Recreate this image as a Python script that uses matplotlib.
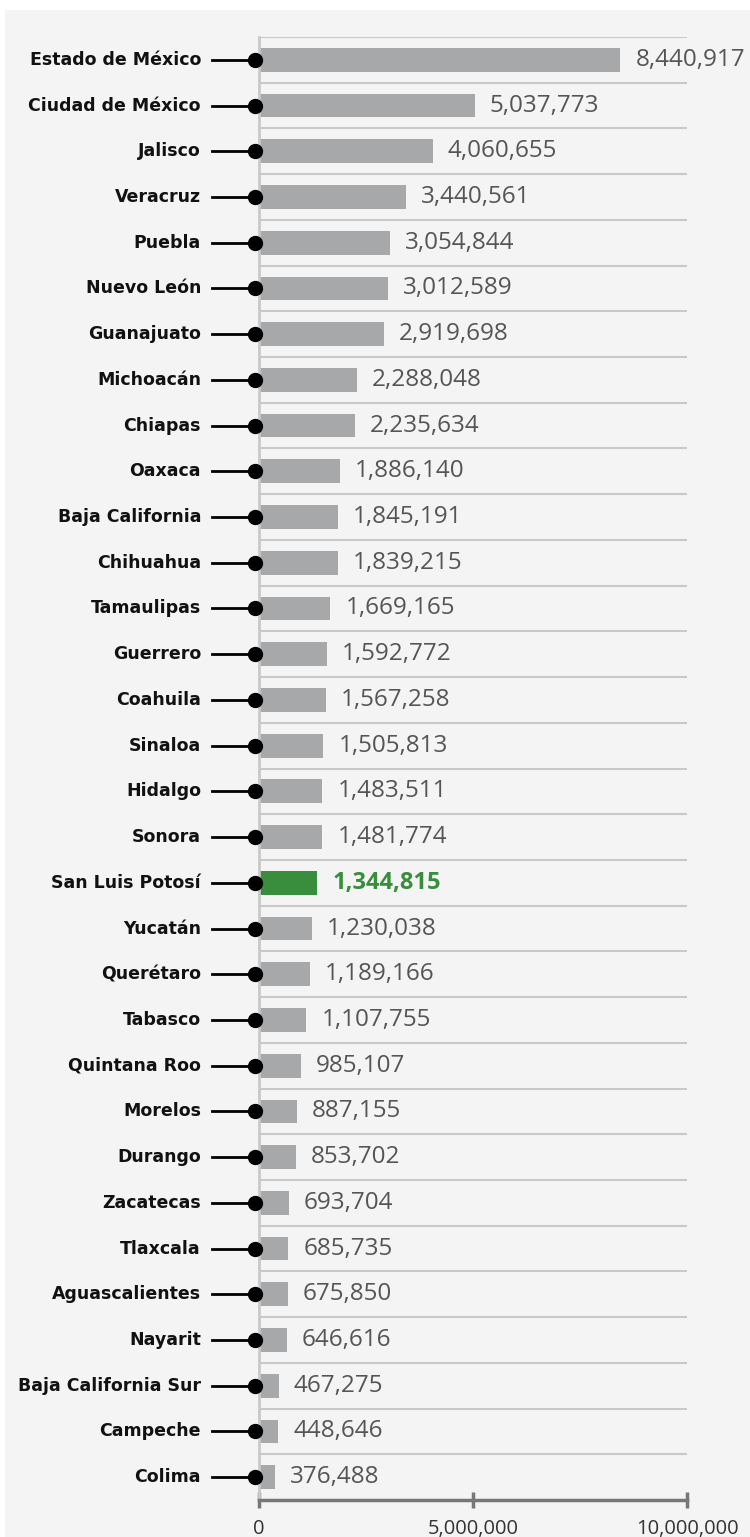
import matplotlib.pyplot as plt
from matplotlib.patches import Rectangle
from matplotlib import transforms

# Datos
estados = ["Estado de México", "Ciudad de México", "Jalisco", "Veracruz", "Puebla",
           "Nuevo León", "Guanajuato", "Michoacán", "Chiapas", "Oaxaca",
           "Baja California", "Chihuahua", "Tamaulipas", "Guerrero", "Coahuila",
           "Sinaloa", "Hidalgo", "Sonora", "San Luis Potosí", "Yucatán",
           "Querétaro", "Tabasco", "Quintana Roo", "Morelos", "Durango",
           "Zacatecas", "Tlaxcala", "Aguascalientes", "Nayarit", "Baja California Sur",
           "Campeche", "Colima"]
valores = [8440917, 5037773, 4060655, 3440561, 3054844,
           3012589, 2919698, 2288048, 2235634, 1886140,
           1845191, 1839215, 1669165, 1592772, 1567258,
           1505813, 1483511, 1481774, 1344815, 1230038,
           1189166, 1107755, 985107, 887155, 853702,
           693704, 685735, 675850, 646616, 467275,
           448646, 376488]
destacado = "San Luis Potosí"
ticks = [0, 5000000, 10000000]

gris = "#a7a8aa"
verde = "#388e3c"

fig = plt.figure(figsize=(7.5, 15.37), dpi=100)
fig.patch.set_facecolor("white")
# panel de fondo gris claro
fig.patches.append(Rectangle((5 / 750, 0), 1, 1 - 10 / 1537, transform=fig.transFigure,
                             facecolor="#f4f4f4", edgecolor="none", zorder=-10))

ax = fig.add_axes([259 / 750, 37 / 1537, 428 / 750, 1463 / 1537])
ax.set_facecolor("none")

y = list(range(len(estados)))
colores = [verde if e == destacado else gris for e in estados]
ax.barh(y, valores, height=0.52, color=colores, zorder=2)

ax.set_xlim(0, 10000000)
ax.set_ylim(len(estados) - 0.5, -0.5)

# lineas horizontales entre filas
for i in y:
    ax.axhline(i - 0.5, color="#c9c9c9", lw=1.5, zorder=1)

for s in ["top", "right"]:
    ax.spines[s].set_visible(False)
ax.spines["left"].set_color("#c9c9c9")
ax.spines["left"].set_linewidth(2)
ax.spines["bottom"].set_color("#777777")
ax.spines["bottom"].set_linewidth(2.5)

ax.set_yticks([])
ax.set_xticks(ticks)
ax.set_xticklabels([f"{t:,}" for t in ticks], fontsize=14.5, color="#333333",
                   family="Open Sans")
ax.tick_params(axis="x", direction="inout", length=12, width=2.5, color="#777777", pad=8)

# punto y etiquetas de cada fila
for i, (e, v) in enumerate(zip(estados, valores)):
    ax.plot([0], [i], "o", color="black", ms=10, clip_on=False, zorder=5,
            transform=transforms.offset_copy(ax.transData, fig=fig, x=-4, y=0, units="dots"))
    ax.text(0, i, e, ha="right", va="center", fontsize=12.5, fontweight="bold",
            family="DejaVu Sans", color="#111111",
            transform=transforms.offset_copy(ax.transData, fig=fig, x=-58, y=0, units="dots"))
    if e == destacado:
        ax.text(v, i, f"{v:,}", ha="left", va="center", fontsize=17,
                fontweight="bold", color=verde, family="Open Sans",
                transform=transforms.offset_copy(ax.transData, fig=fig, x=16, y=0, units="dots"))
    else:
        ax.text(v, i, f"{v:,}", ha="left", va="center", fontsize=17.5,
                color="#555555", family="Open Sans",
                transform=transforms.offset_copy(ax.transData, fig=fig, x=15, y=0, units="dots"))

# segmentos conectores en pixeles
for i in y:
    x0, y0 = ax.transData.transform((0, i))
    fig.add_artist(plt.Line2D([(x0 - 47) / 750, (x0 - 4) / 750],
                              [y0 / 1537, y0 / 1537], color="black", lw=2,
                              transform=fig.transFigure, zorder=4))

fig.savefig("out.png", dpi=100, facecolor=fig.get_facecolor())
